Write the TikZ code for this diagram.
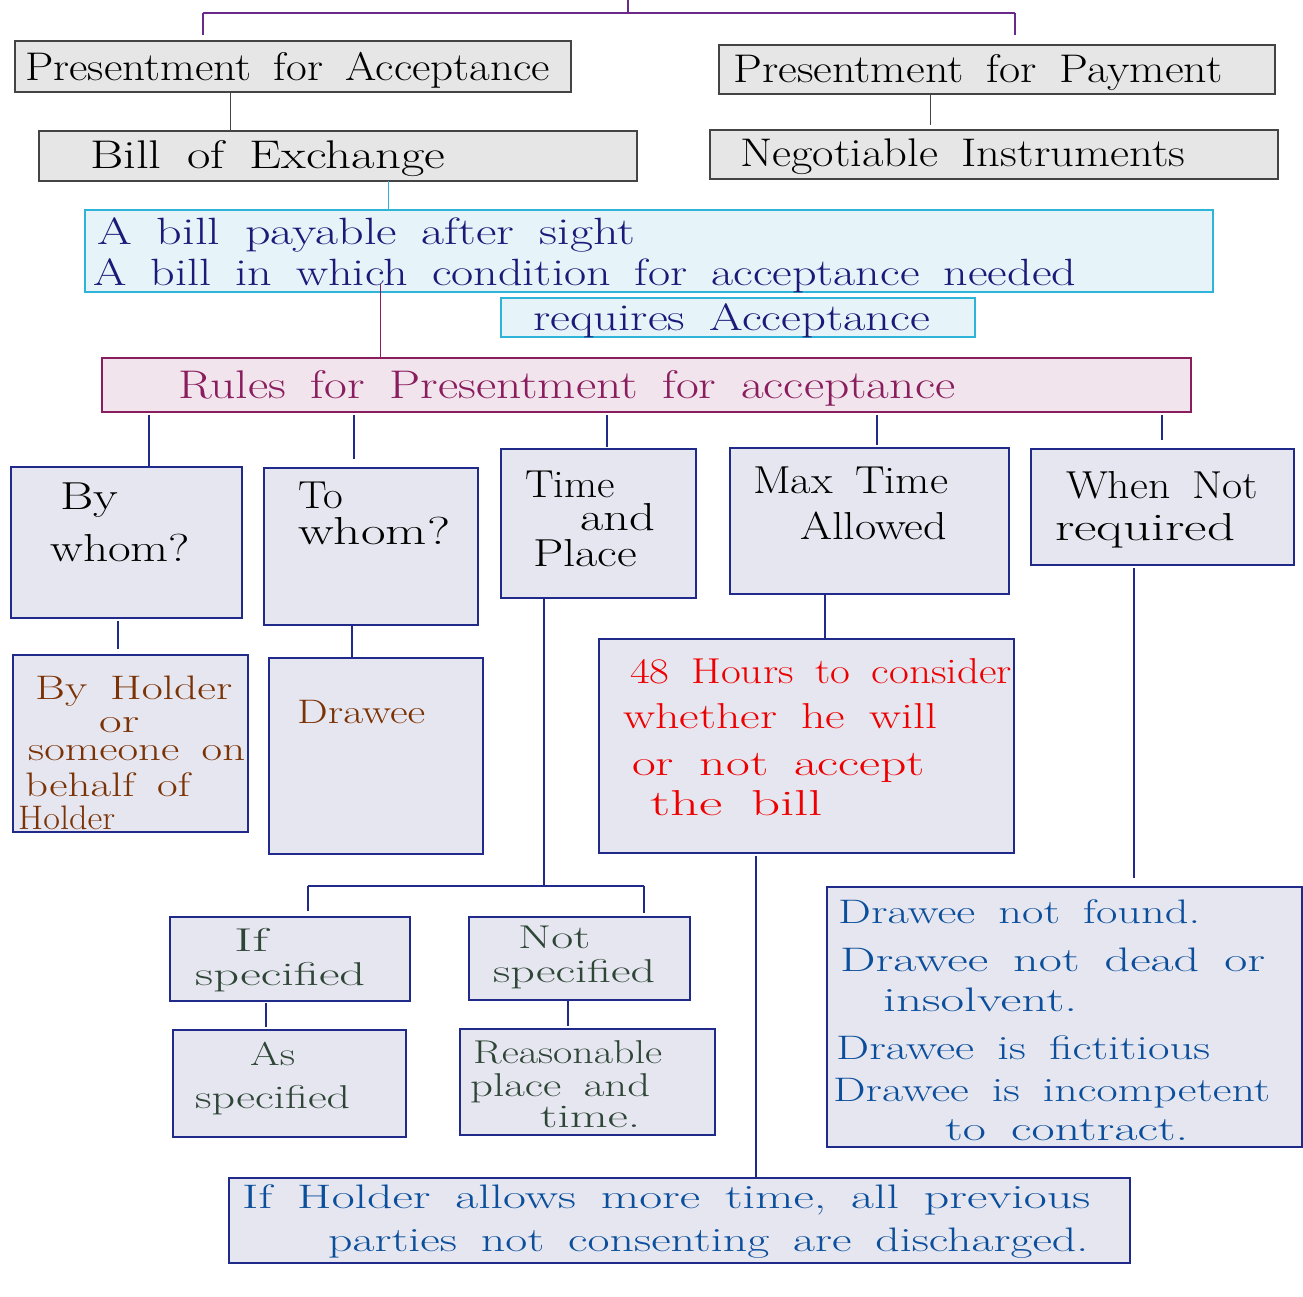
\documentclass[tikz,border=0pt]{standalone}
\usepackage{fontspec}
\usepackage{graphicx}
\usetikzlibrary{fit}
\definecolor{topln}{HTML}{6B2A88}
\definecolor{grayln}{HTML}{444444}
\definecolor{grayfill}{HTML}{E6E6E6}
\definecolor{cyanln}{HTML}{2DB4D8}
\definecolor{cyanfill}{HTML}{E6F4FA}
\definecolor{navytxt}{HTML}{1A1A78}
\definecolor{maroon}{HTML}{8A1D5E}
\definecolor{rosefill}{HTML}{F1E4EC}
\definecolor{navyln}{HTML}{1F2A8A}
\definecolor{lavfill}{HTML}{E6E6F0}
\definecolor{browntxt}{HTML}{7B3306}
\definecolor{greentxt}{HTML}{2E4636}
\definecolor{redtxt}{HTML}{EE0000}
\definecolor{bluetxt}{HTML}{0B4F9C}
\newcommand\fitw[2]{\resizebox{#1pt}{\height}{#2}}
\newcommand\hwfont[1]{\fontsize{#1}{#1}\selectfont\addfontfeature{LetterSpace=5}\spaceskip=0.5em\relax}
\begin{document}
\begin{tikzpicture}[x=1pt,y=-1pt,
  boxbase/.style={draw, line width=1.3pt, inner sep=0pt, outer sep=0pt},
  graybox/.style={boxbase, draw=grayln, fill=grayfill},
  cyanbox/.style={boxbase, draw=cyanln, fill=cyanfill},
  rosebox/.style={boxbase, draw=maroon, fill=rosefill},
  lavbox/.style={boxbase, draw=navyln, fill=lavfill},
  lbl/.style={anchor=base west, inner sep=0pt},
  bigtxt/.style={lbl, text=black, font={\hwfont{40}}},
  cyantxt/.style={lbl, text=navytxt, font={\hwfont{38}}},
  rulestxt/.style={lbl, text=maroon, font={\hwfont{40}}},
  boxtxt/.style={lbl, text=black, font={\hwfont{39}}},
  browntx/.style={lbl, text=browntxt, font={\hwfont{34}}},
  greentx/.style={lbl, text=greentxt, font={\hwfont{33}}},
  redtx/.style={lbl, text=redtxt, font={\hwfont{36}}},
  bluetx/.style={lbl, text=bluetxt, font={\hwfont{34}}},
  topconn/.style={draw=topln, line width=1.2pt},
  grayconn/.style={draw=grayln, line width=1pt},
  cyanconn/.style={draw=cyanln, line width=1pt},
  maroonconn/.style={draw=maroon, line width=1pt},
  navyconn/.style={draw=navyln, line width=1.2pt}
]
\useasboundingbox (0,0) rectangle (1303,1296);

% ---- boxes ----
\node[graybox, fit={(15,41) (571,92)}] (pa) {};
\node[graybox, fit={(719,45) (1275,94)}] (pp) {};
\node[graybox, fit={(39,131) (637,181)}] (boe) {};
\node[graybox, fit={(710,130) (1278,179)}] (ni) {};
\node[cyanbox, fit={(85,210) (1213,292)}] (def) {};
\node[cyanbox, fit={(501,298) (975,337)}] (req) {};
\node[rosebox, fit={(102,358) (1191,412)}] (rules) {};
\node[lavbox, fit={(11,467) (242,618)}] (bywhom) {};
\node[lavbox, fit={(264,468) (478,625)}] (towhom) {};
\node[lavbox, fit={(501,449) (696,598)}] (timeplace) {};
\node[lavbox, fit={(730,448) (1009,594)}] (maxtime) {};
\node[lavbox, fit={(1031,449) (1294,565)}] (notreq) {};
\node[lavbox, fit={(13,655) (248,832)}] (holder) {};
\node[lavbox, fit={(269,658) (483,854)}] (drawee) {};
\node[lavbox, fit={(599,639) (1014,853)}] (hours) {};
\node[lavbox, fit={(170,917) (410,1001)}] (ifspec) {};
\node[lavbox, fit={(469,917) (690,1000)}] (notspec) {};
\node[lavbox, fit={(173,1030) (406,1137)}] (asspec) {};
\node[lavbox, fit={(460,1029) (715,1135)}] (reason) {};
\node[lavbox, fit={(827,887) (1302,1147)}] (cases) {};
\node[lavbox, fit={(229,1178) (1130,1263)}] (discharge) {};

% ---- texts ----
\node[bigtxt] (t1) at (25,80) {\fitw{525}{Presentment for Acceptance}};
\node[bigtxt] (t2) at (733,82) {\fitw{489}{Presentment for Payment}};
\node[bigtxt] (t3) at (90,168) {\fitw{355}{Bill of Exchange}};
\node[bigtxt] (t4) at (740,166) {\fitw{445}{Negotiable Instruments}};
\node[cyantxt] (t5) at (97,244) {\fitw{538}{A bill payable after sight}};
\node[cyantxt] (t6) at (93,285) {\fitw{983}{A bill in which condition for acceptance needed}};
\node[cyantxt] (t7) at (533,330) {\fitw{397}{requires Acceptance}};
\node[rulestxt] (t8) at (178,398) {\fitw{777}{Rules for Presentment for acceptance}};
\node[boxtxt] (t9) at (60,509) {\fitw{58}{By}};
\node[boxtxt] (t10) at (50,561) {\fitw{140}{whom?}};
\node[boxtxt] (t11) at (298,508) {\fitw{45}{To}};
\node[boxtxt] (t12) at (298,544) {\fitw{152}{whom?}};
\node[boxtxt] (t13) at (525,497) {\fitw{90}{Time}};
\node[boxtxt] (t14) at (580,530) {\fitw{75}{and}};
\node[boxtxt] (t15) at (533,566) {\fitw{104}{Place}};
\node[boxtxt] (t16) at (753,493) {\fitw{195}{Max Time}};
\node[boxtxt] (t17) at (800,539) {\fitw{147}{Allowed}};
\node[boxtxt] (t18) at (1066,498) {\fitw{192}{When Not}};
\node[boxtxt] (t19) at (1055,540) {\fitw{180}{required}};
\node[browntx] (t20) at (35,699) {\fitw{197}{By Holder}};
\node[browntx] (t21) at (99,732) {\fitw{40}{or}};
\node[browntx] (t22) at (28,760) {\fitw{217}{someone on}};
\node[browntx] (t23) at (25,796) {\fitw{165}{behalf of}};
\node[browntx] (t24) at (18,829) {\fitw{97}{Holder}};
\node[browntx] (t25) at (297,723) {\fitw{128}{Drawee}};
\node[redtx] (t26) at (630,683) {\fitw{382}{48 Hours to consider}};
\node[redtx] (t27) at (623,728) {\fitw{314}{whether he will}};
\node[redtx] (t28) at (632,775) {\fitw{293}{or not accept}};
\node[redtx] (t29) at (650,815) {\fitw{173}{the bill}};
\node[greentx] (t30) at (234,951) {\fitw{34}{If}};
\node[greentx] (t31) at (195,985) {\fitw{170}{specified}};
\node[greentx] (t32) at (518,948) {\fitw{72}{Not}};
\node[greentx] (t33) at (493,982) {\fitw{162}{specified}};
\node[greentx] (t34) at (250,1065) {\fitw{45}{As}};
\node[greentx] (t35) at (195,1108) {\fitw{155}{specified}};
\node[greentx] (t36) at (473,1063) {\fitw{189}{Reasonable}};
\node[greentx] (t37) at (470,1096) {\fitw{180}{place and}};
\node[greentx] (t38) at (540,1127) {\fitw{100}{time.}};
\node[bluetx] (t39) at (838,923) {\fitw{362}{Drawee not found.}};
\node[bluetx] (t40) at (840,971) {\fitw{425}{Drawee not dead or}};
\node[bluetx] (t41) at (883,1011) {\fitw{194}{insolvent.}};
\node[bluetx] (t42) at (836,1059) {\fitw{374}{Drawee is fictitious}};
\node[bluetx] (t43) at (833,1101) {\fitw{437}{Drawee is incompetent}};
\node[bluetx] (t44) at (945,1140) {\fitw{243}{to contract.}};
\node[bluetx] (t45) at (242,1208) {\fitw{848}{If Holder allows more time, all previous}};
\node[bluetx] (t46) at (328,1251) {\fitw{760}{parties not consenting are discharged.}};

% ---- connectors ----
\coordinate (top) at (628,0);
\coordinate (split) at (628,13);
\draw[topconn] (top) -- (split);
\draw[topconn] (203,13) -- (1015,13);
\draw[topconn] (203,13) -- ([yshift=6pt]pa.north -| 203,0);
\draw[topconn] (1015,13) -- ([yshift=10pt]pp.north -| 1015,0);
\draw[grayconn] (pa.south -| 230,0) -- (boe.north -| 230,0);
\draw[grayconn] (pp.south -| 930,0) -- ([yshift=5pt]ni.north -| 930,0);
\draw[cyanconn] (boe.south -| 388,0) -- (def.north -| 388,0);
\draw[maroonconn] ([yshift=8pt]def.south -| 380,0) -- (rules.north -| 380,0);
\draw[navyconn] ([yshift=-3pt]rules.south -| 149,0) -- (bywhom.north -| 149,0);
\draw[navyconn] ([yshift=-3pt]rules.south -| 354,0) -- ([yshift=9pt]towhom.north -| 354,0);
\draw[navyconn] ([yshift=-3pt]rules.south -| 607,0) -- ([yshift=2pt]timeplace.north -| 607,0);
\draw[navyconn] ([yshift=-3pt]rules.south -| 877,0) -- ([yshift=3pt]maxtime.north -| 877,0);
\draw[navyconn] ([yshift=-3pt]rules.south -| 1162,0) -- ([yshift=9pt]notreq.north -| 1162,0);
\draw[navyconn] ([yshift=-3pt]bywhom.south -| 118,0) -- ([yshift=6pt]holder.north -| 118,0);
\draw[navyconn] (towhom.south -| 352,0) -- (drawee.north -| 352,0);
\draw[navyconn] (timeplace.south -| 544,0) -- (544,886);
\draw[navyconn] (308,886) -- (644,886);
\draw[navyconn] (308,886) -- ([yshift=6pt]ifspec.north -| 308,0);
\draw[navyconn] (644,886) -- ([yshift=4pt]notspec.north -| 644,0);
\draw[navyconn] ([yshift=-2pt]ifspec.south -| 266,0) -- ([yshift=3pt]asspec.north -| 266,0);
\draw[navyconn] (notspec.south -| 568,0) -- ([yshift=3pt]reason.north -| 568,0);
\draw[navyconn] (maxtime.south -| 825,0) -- (hours.north -| 825,0);
\draw[navyconn] ([yshift=-3pt]hours.south -| 756,0) -- (discharge.north -| 756,0);
\draw[navyconn] ([yshift=-3pt]notreq.south -| 1134,0) -- ([yshift=9pt]cases.north -| 1134,0);
\end{tikzpicture}
\end{document}
